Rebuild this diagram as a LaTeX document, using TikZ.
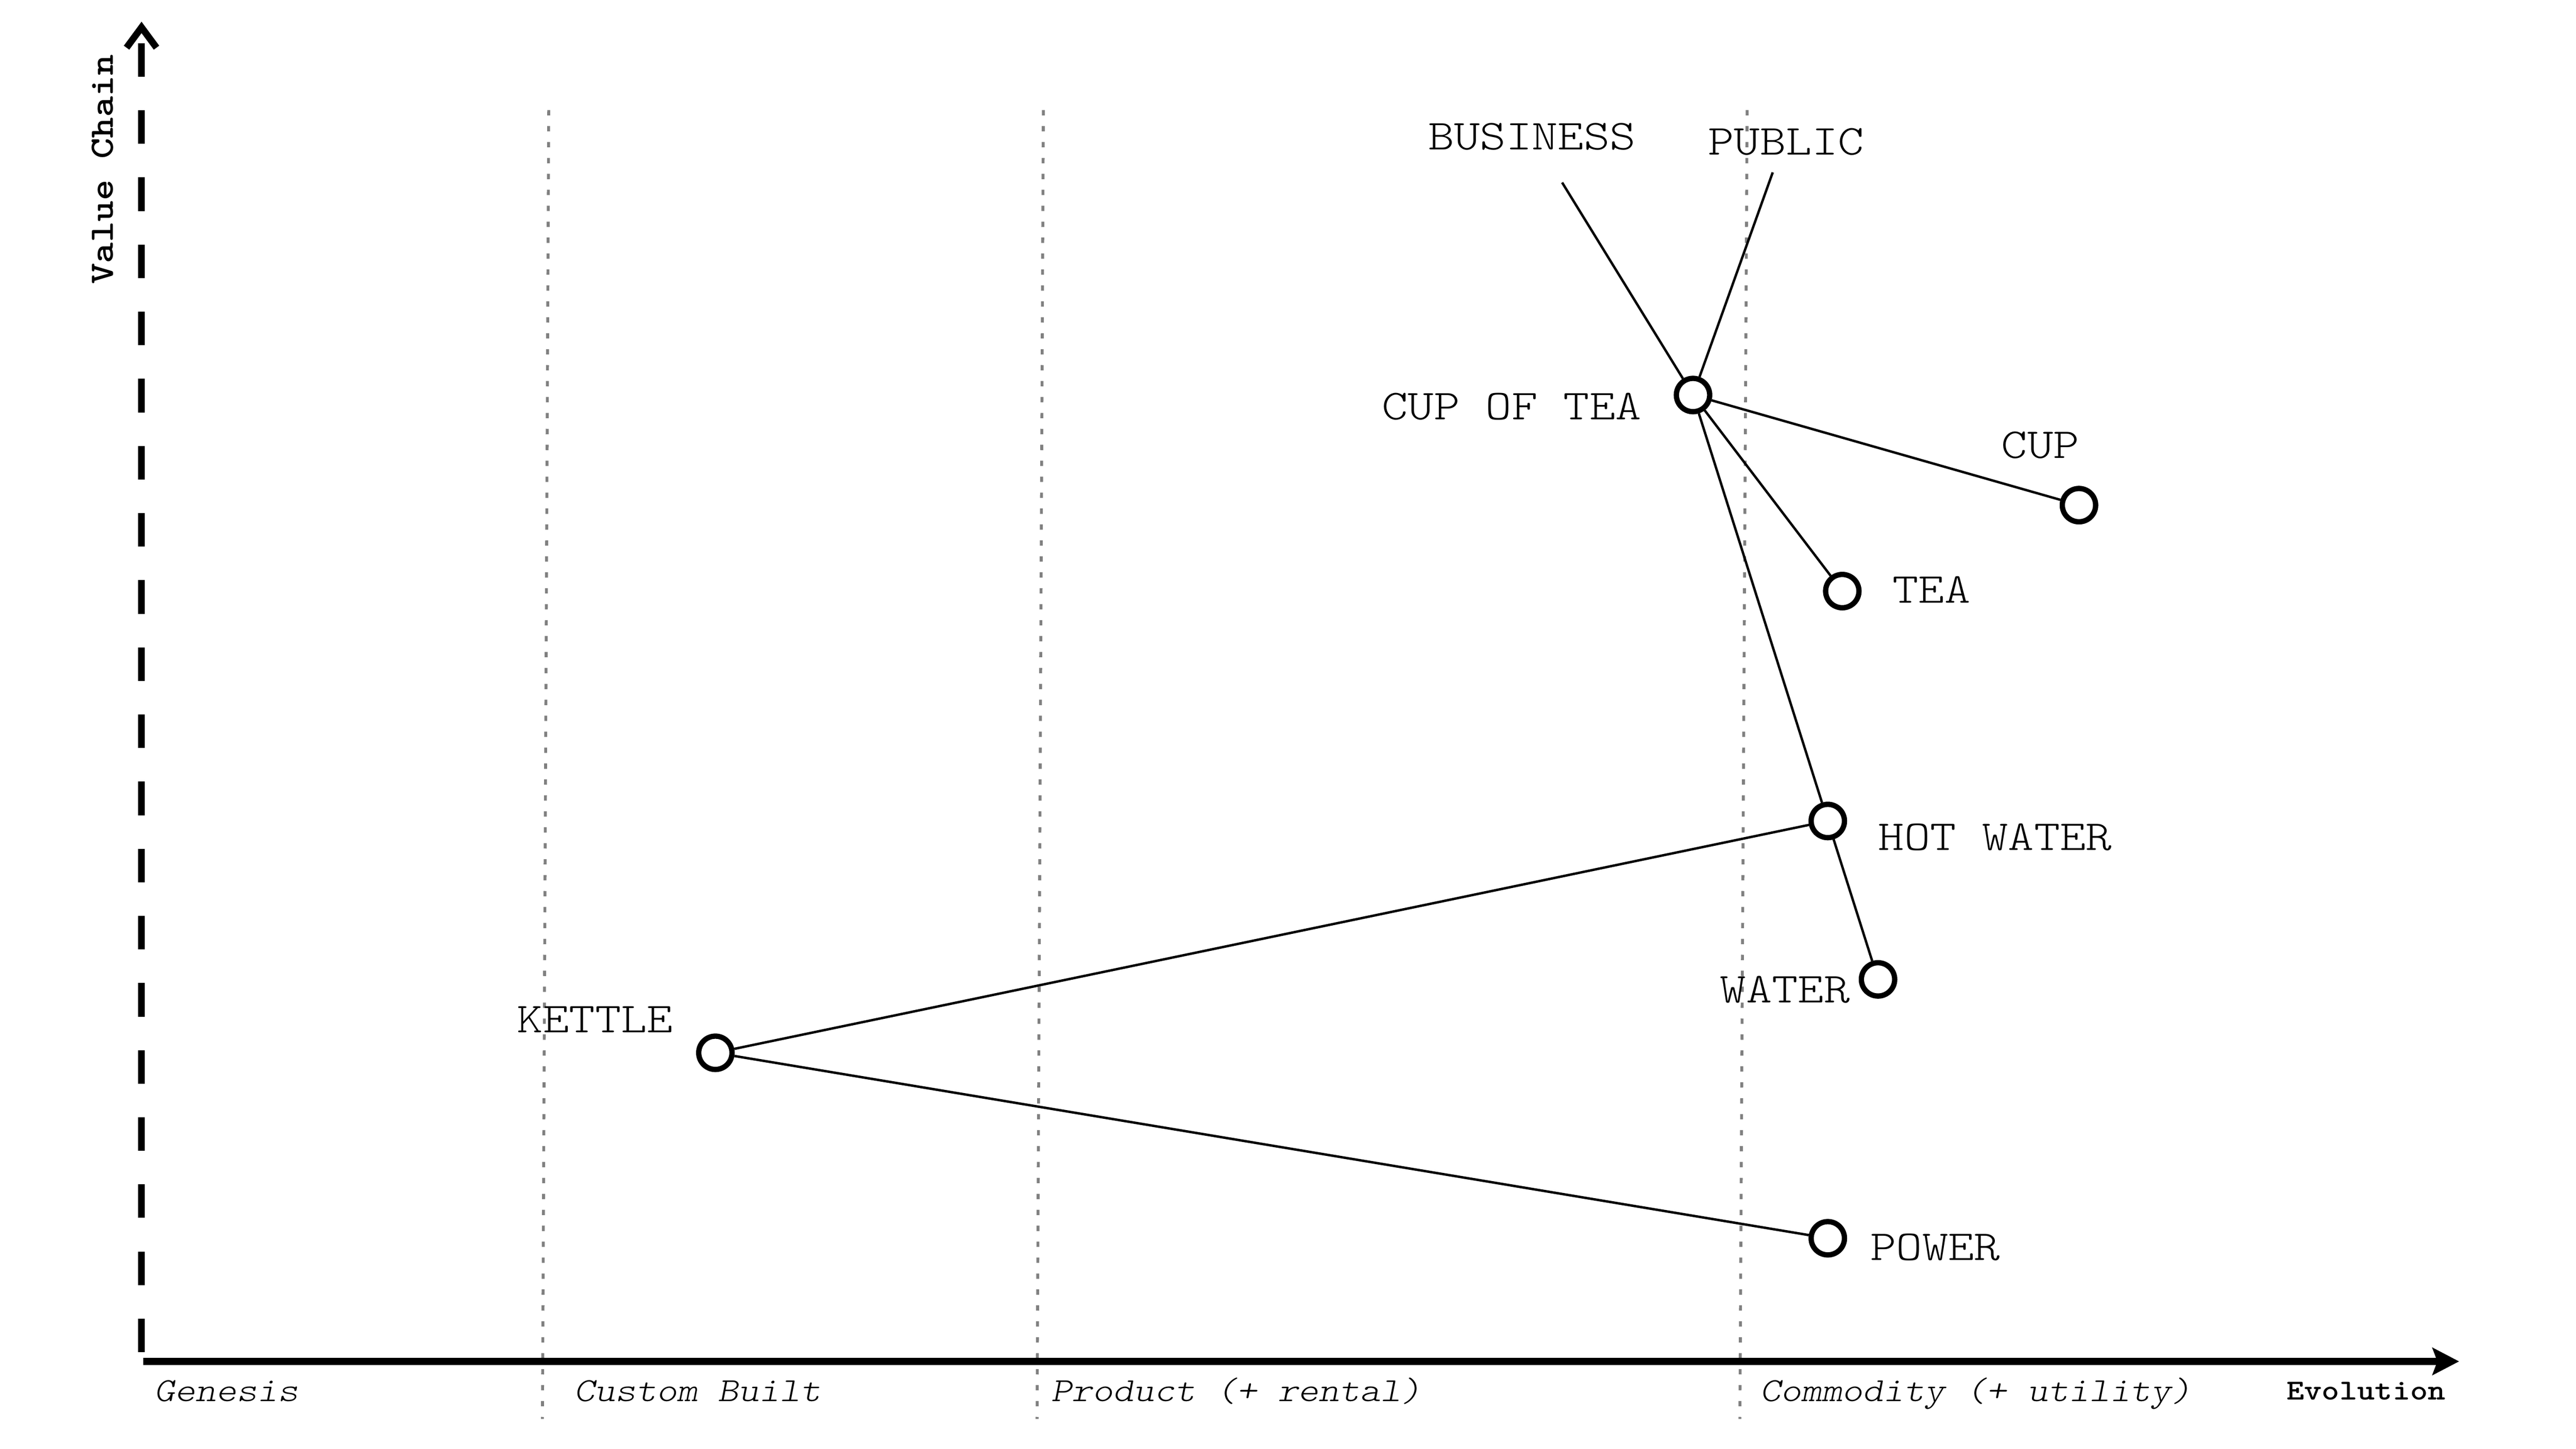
\documentclass[tikz,border=0pt]{standalone}
\usepackage{fontspec}
\newfontfamily\courfont[Extension=.otf,UprightFont=*-regular,BoldFont=*-bold,ItalicFont=*-oblique,BoldItalicFont=*-boldoblique,FakeStretch=1.16]{lmmonolt10}
\usetikzlibrary{arrows.meta}

\begin{document}
\begin{tikzpicture}[
	comp/.style={circle,draw,fill=white,line width=0.11cm,minimum size=0.69cm,inner sep=0pt},
	lbl/.style={font=\courfont\fontsize{25.1pt}{30pt}\selectfont,inner sep=0pt,anchor=base},
	stagelbl/.style={font=\courfont\itshape\fontsize{19.9pt}{24pt}\selectfont,inner sep=0pt,anchor=base west},
	link/.style={line width=0.05cm},
	stageline/.style={gray,line width=0.06cm,dash pattern=on 0.11cm off 0.22cm}
	]
	\useasboundingbox (0,0) rectangle (53.33,30);
	\foreach \t/\b in {11.36/11.23,21.60/21.47,36.17/36.02}{ %区切り
		\draw[stageline] (\t,27.72) -- (\b,0.62);
	}
	\coordinate (o) at (2.93,2.00); %y軸
	\coordinate (top) at (2.93,29.55);
	\draw[line width=0.14cm,dash pattern=on 0.695cm off 0.695cm,-{Straight Barb[length=0.42cm,width=0.62cm]}] (o) -- (top);
	\coordinate (xs) at (2.97,1.81); %x軸
	\coordinate (xe) at (50.91,1.81);
	\draw[line width=0.14cm,-{Stealth[length=0.55cm,width=0.56cm,inset=0.1cm]}] (xs) -- (xe);
	\node[font=\courfont\bfseries\fontsize{20.2pt}{24pt}\selectfont,inner sep=0pt,anchor=base,rotate=90] (vc) at (2.34,26.49) {Value Chain};
	\node[font=\courfont\bfseries\fontsize{17.1pt}{21pt}\selectfont,inner sep=0pt,anchor=base] (evo) at (48.985,1.01) {Evolution};
	\foreach \x/\s/\n in {3.19/Genesis/gen,11.88/Custom Built/cus,21.76/Product (+ rental)/pro,36.43/Commodity (+ utility)/com}{ %段階
		\node[stagelbl] (\n) at (\x,0.98) {\s};
	}
	% components
	\node[comp] (cupoftea) at (35.05,21.82) {};
	\node[comp] (cup) at (43.04,19.54) {};
	\node[comp] (tea) at (38.14,17.76) {};
	\node[comp] (hotwater) at (37.84,13.00) {};
	\node[comp] (water) at (38.88,9.72) {};
	\node[comp] (kettle) at (14.81,8.20) {};
	\node[comp] (power) at (37.84,4.36) {};
	\coordinate (business) at (32.34,26.22);
	\coordinate (public) at (36.70,26.43);
	\node[lbl] (businesslbl) at (31.715,26.90) {BUSINESS};
	\node[lbl] (publiclbl) at (36.975,26.79) {PUBLIC};
	\node[lbl] (cupoftealbl) at (31.295,21.31) {CUP OF TEA};
	\node[lbl] (cuplbl) at (42.24,20.51) {CUP};
	\node[lbl] (tealbl) at (39.985,17.52) {TEA};
	\node[lbl] (hotwaterlbl) at (41.305,12.40) {HOT WATER};
	\node[lbl] (waterlbl) at (36.955,9.24) {WATER};
	\node[lbl] (powerlbl) at (40.065,3.91) {POWER};
	\node[lbl] (kettlelbl) at (12.32,8.62) {KETTLE};
	% links
	\draw[link] (business) -- (cupoftea);
	\draw[link] (public) -- (cupoftea);
	\draw[link] (cupoftea) -- (cup);
	\draw[link] (cupoftea) -- (tea);
	\draw[link] (cupoftea) -- (hotwater);
	\draw[link] (hotwater) -- (water);
	\draw[link] (hotwater) -- (kettle);
	\draw[link] (kettle) -- (power);
\end{tikzpicture}
\end{document}
